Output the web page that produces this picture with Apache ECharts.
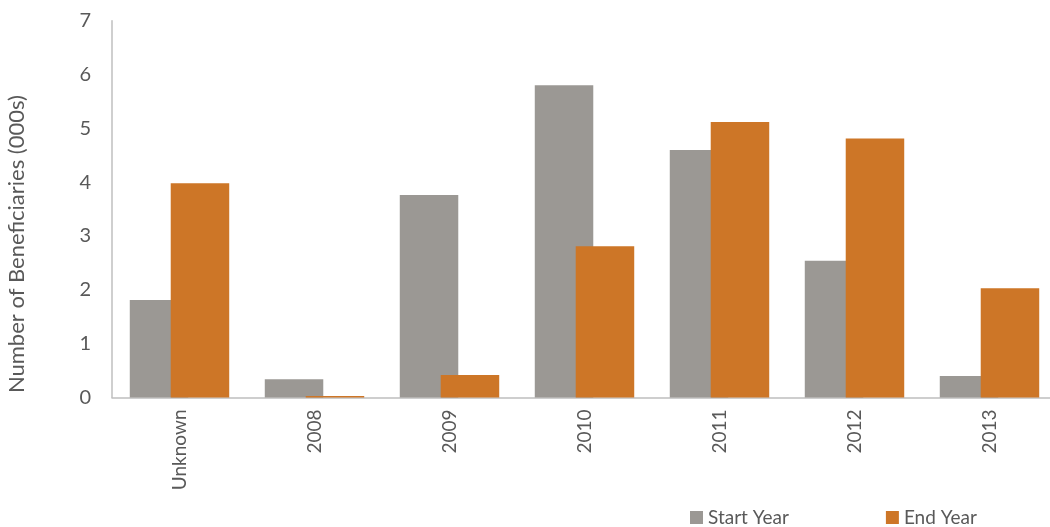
<!DOCTYPE html>
<html>
<head>
<meta charset="utf-8">
<script src="https://cdn.jsdelivr.net/npm/echarts@6/dist/echarts.min.js"></script>
<style>
  html, body { margin: 0; padding: 0; background: #fff; }
  #chart { width: 1050px; height: 527px; }
</style>
</head>
<body>
<div id="chart"></div>
<script>
// data
const categories = ['Unknown', '2008', '2009', '2010', '2011', '2012', '2013'];
const startYear = [1.81, 0.34, 3.76, 5.80, 4.60, 2.54, 0.40];
const endYear = [3.98, 0.03, 0.42, 2.81, 5.12, 4.81, 2.03];
const yTicks = [0, 1, 2, 3, 4, 5, 6, 7];

const textColor = '#595959';
const font = 'Lato, "Noto Sans", sans-serif';

const myChart = echarts.init(document.getElementById('chart'));

const option = {
  animation: false,
  color: ['#9b9894', '#cd7627'],
  grid: {
    left: 112,
    right: -7,
    top: 20.7,
    bottom: 129.5,
    containLabel: false,
    outerBoundsMode: 'none'
  },
  legend: {
    data: ['Start Year', 'End Year'],
    left: 685,
    top: 503,
    icon: 'rect',
    itemWidth: 13,
    itemHeight: 13,
    itemGap: 97,
    textStyle: { color: textColor, fontSize: 19, fontFamily: font }
  },
  xAxis: {
    type: 'category',
    data: categories,
    axisLine: { lineStyle: { color: '#bfbfbf', width: 1.5 } },
    axisTick: { show: false },
    axisLabel: {
      rotate: 90,
      margin: 12,
      color: textColor,
      fontSize: 19,
      fontFamily: font,
      padding: [0, 0, 15, 0]
    }
  },
  yAxis: {
    type: 'value',
    min: yTicks[0],
    max: yTicks[yTicks.length - 1],
    interval: 1,
    name: 'Number of Beneficiaries (000s)',
    nameLocation: 'middle',
    nameGap: 84,
    nameTextStyle: {
      color: textColor,
      fontSize: 22,
      fontFamily: font,
      padding: [0, 70, 0, 0]
    },
    axisLine: { show: true, lineStyle: { color: '#bfbfbf', width: 1.5 } },
    axisTick: { show: false },
    splitLine: { show: false },
    axisLabel: {
      margin: 21,
      color: textColor,
      fontSize: 20,
      fontFamily: font
    }
  },
  series: [
    {
      name: 'Start Year',
      type: 'bar',
      data: startYear,
      barWidth: 58.5,
      barGap: '-30%'
    },
    {
      name: 'End Year',
      type: 'bar',
      data: endYear,
      barWidth: 58.5,
      barGap: '-30%'
    }
  ]
};

myChart.setOption(option);
</script>
</body>
</html>
